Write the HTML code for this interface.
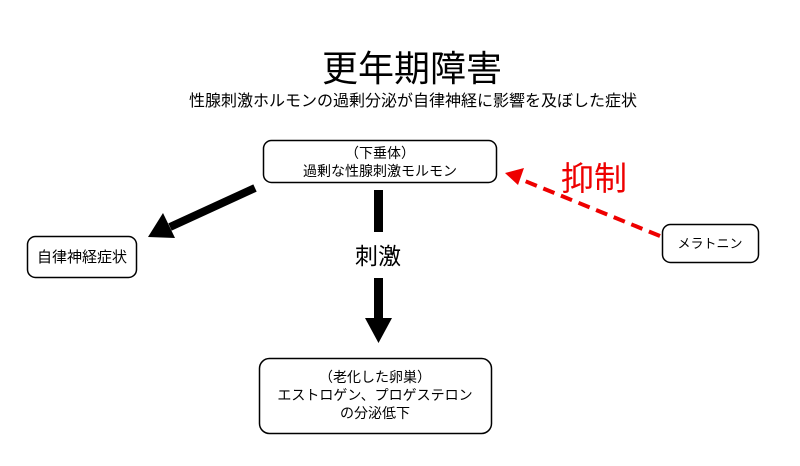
<!DOCTYPE html>
<html><head><meta charset="utf-8"><style>
body{margin:0;background:#fff}
svg{display:block;font-family:"Liberation Sans","Noto Sans CJK JP",sans-serif}
</style></head><body>
<svg width="800" height="466" viewBox="0 0 800 466">
<text x="412" y="81" font-size="36" text-anchor="middle" fill="#000">更年期障害</text>
<text x="413" y="106" font-size="16" text-anchor="middle" fill="#000">性腺刺激ホルモンの過剰分泌が自律神経に影響を及ぼした症状</text>
<rect x="263.5" y="140.5" width="233" height="42" rx="8" fill="#fff" stroke="#000" stroke-width="1.5"/>
<text x="380" y="158" font-size="14" text-anchor="middle">（下垂体）</text>
<text x="380" y="176" font-size="14" text-anchor="middle">過剰な性腺刺激モルモン</text>
<rect x="27.5" y="236.5" width="109" height="41" rx="8" fill="#fff" stroke="#000" stroke-width="1.5"/>
<text x="82" y="262" font-size="15" text-anchor="middle">自律神経症状</text>
<rect x="662.5" y="224.5" width="96" height="38" rx="8" fill="#fff" stroke="#000" stroke-width="1.5"/>
<text x="710" y="248" font-size="13" text-anchor="middle">メラトニン</text>
<rect x="259.5" y="358.5" width="232" height="75" rx="10" fill="#fff" stroke="#000" stroke-width="1.5"/>
<text x="375" y="382" font-size="14" text-anchor="middle">（老化した卵巣）</text>
<text x="375" y="400" font-size="14" text-anchor="middle">エストロゲン、プロゲステロン</text>
<text x="375" y="418" font-size="14" text-anchor="middle">の分泌低下</text>
<line x1="255" y1="188" x2="170" y2="227" stroke="#000" stroke-width="8"/>
<polygon points="148,237 163,213 175,238" fill="#000"/>
<rect x="374" y="190" width="9" height="42" fill="#000"/>
<text x="378" y="264" font-size="23" text-anchor="middle">刺激</text>
<rect x="374" y="278" width="9" height="42" fill="#000"/>
<polygon points="365,318 392,318 378.5,343" fill="#000"/>
<line x1="660" y1="236" x2="520" y2="179" stroke="#e00" stroke-width="4" stroke-dasharray="12,7"/>
<polygon points="505,173 524,168 518,185" fill="#e00"/>
<text x="594" y="190" font-size="33" text-anchor="middle" fill="#e00">抑制</text>
</svg>
</body></html>
